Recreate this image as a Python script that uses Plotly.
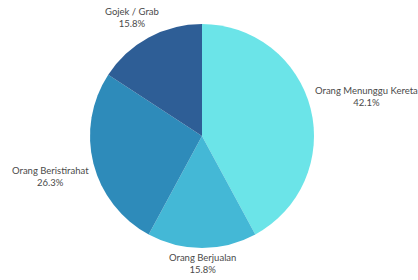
import math
import plotly.graph_objects as go

labels = ["Orang Menunggu Kereta", "Orang Berjualan", "Orang Beristirahat", "Gojek / Grab"]
values = [8, 3, 5, 3]
colors = ["#6BE4E8", "#44B8D6", "#2E8BBA", "#2E5E96"]

# label styling: (xanchor, xshift, yshift) in pixels
label_style = [("left", 2, 12), ("center", 0, -15.5), ("right", -2, -13), ("center", -17, 19.5)]

W, H = 418, 280
ML, MR, MT, MB = 89, 103, 24, 32
pw, ph = W - ML - MR, H - MT - MB
R = min(pw, ph) / 2

fig = go.Figure(go.Pie(
    labels=labels, values=values, sort=False, direction="clockwise", rotation=0,
    marker=dict(colors=colors, line=dict(width=0)),
    textinfo="none", showlegend=False, hoverinfo="label+percent",
))

total = sum(values)
cum = 0
for lab, v, (xa, xs, ys) in zip(labels, values, label_style):
    mid = (cum + v / 2) / total * 2 * math.pi
    cum += v
    px = pw / 2 + R * math.sin(mid)
    py = ph / 2 + R * math.cos(mid)
    fig.add_annotation(
        x=px / pw, y=py / ph, xref="paper", yref="paper",
        text=f"{lab}<br>{v / total * 100:.1f}%", showarrow=False,
        xanchor=xa, yanchor="middle", xshift=xs, yshift=ys,
        font=dict(family="Lato", size=9.5, color="#4a4a4a"),
    )

fig.update_layout(
    width=W, height=H,
    margin=dict(l=ML, r=MR, t=MT, b=MB),
    paper_bgcolor="white", plot_bgcolor="white",
)
fig.write_html("out.html", config={"displayModeBar": False},
               post_script="document.body.style.margin='0';document.body.style.overflow='hidden';")
